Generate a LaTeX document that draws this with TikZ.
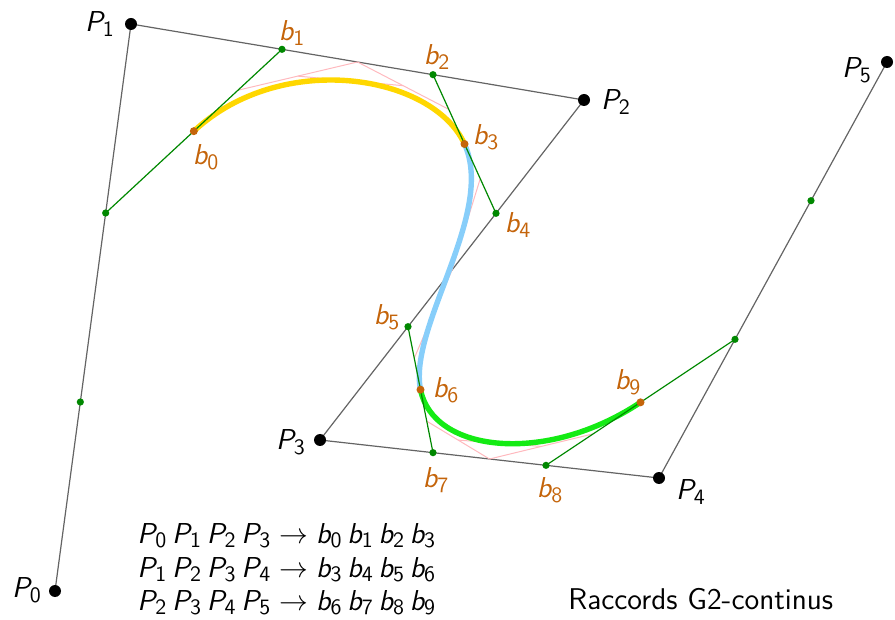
\documentclass[tikz,border=0pt]{standalone}
\usetikzlibrary{calc}
\DeclareMathAlphabet{\mathsfit}{OT1}{cmss}{m}{sl}
\newcommand\Pp[1]{\mathsfit{P}_{\mathsf{#1}}}
\newcommand\bq[1]{\mathsfit{b}_{\mathsf{#1}}}
\definecolor{gdark}{RGB}{0,136,0}
\definecolor{borange}{RGB}{196,100,10}
\definecolor{pinkc}{RGB}{255,185,190}
\definecolor{goldc}{RGB}{255,215,0}
\definecolor{bluec}{RGB}{135,206,250}
\definecolor{greenc}{RGB}{20,235,20}
\definecolor{polyc}{RGB}{100,100,100}
\begin{document}
\begin{tikzpicture}[x=0.5pt,y=-0.5pt,
  pdot/.style={circle,fill=black,inner sep=0pt,minimum size=6pt},
  gdot/.style={circle,fill=gdark,inner sep=0pt,minimum size=3.6pt},
  odot/.style={circle,fill=borange,inner sep=0pt,minimum size=4pt},
  poly/.style={draw=polyc,line width=0.6pt},
  glin/.style={draw=gdark,line width=0.6pt},
  pinkl/.style={draw=pinkc,line width=0.5pt},
  curve/.style={line width=2.7pt},
  lab/.style={font=\fontsize{15}{18}\selectfont,inner sep=0pt},
  blab/.style={lab,text=borange}]
\useasboundingbox (0,0) rectangle (895,620);
% control points
\coordinate (P0) at (55,591);
\coordinate (P1) at (131,24);
\coordinate (P2) at (584,100);
\coordinate (P3) at (320,440);
\coordinate (P4) at (659,478);
\coordinate (P5) at (887,62);
% thirds
\coordinate (a1) at ($(P0)!1/3!(P1)$);
\coordinate (a2) at ($(P0)!2/3!(P1)$);
\coordinate (b1) at ($(P1)!1/3!(P2)$);
\coordinate (b2) at ($(P1)!2/3!(P2)$);
\coordinate (b4) at ($(P2)!1/3!(P3)$);
\coordinate (b5) at ($(P2)!2/3!(P3)$);
\coordinate (b7) at ($(P3)!1/3!(P4)$);
\coordinate (b8) at ($(P3)!2/3!(P4)$);
\coordinate (c1) at ($(P4)!1/3!(P5)$);
\coordinate (c2) at ($(P4)!2/3!(P5)$);
\coordinate (b0) at ($(a2)!1/2!(b1)$);
\coordinate (b3) at ($(b2)!1/2!(b4)$);
\coordinate (b6) at ($(b5)!1/2!(b7)$);
\coordinate (b9) at ($(b8)!1/2!(c1)$);
% de Casteljau at t=1/2
\foreach \s/\A/\B/\C/\D in {x/b0/b1/b2/b3, y/b3/b4/b5/b6, z/b6/b7/b8/b9}{
  \coordinate (\s m01) at ($(\A)!1/2!(\B)$);
  \coordinate (\s m12) at ($(\B)!1/2!(\C)$);
  \coordinate (\s m23) at ($(\C)!1/2!(\D)$);
}
\foreach \s in {x,y,z}{
  \coordinate (\s l2a) at ($(\s m01)!1/2!(\s m12)$);
  \coordinate (\s l2b) at ($(\s m12)!1/2!(\s m23)$);
}
% control polygon
\draw[poly] (P0) -- (P1) -- (P2) -- (P3) -- (P4) -- (P5);
% pink construction
\foreach \s in {x,y,z}{
  \draw[pinkl] (\s m01) -- (\s m12) -- (\s m23);
  \draw[pinkl] (\s l2a) -- (\s l2b);
}
% curves
\draw[curve,goldc] (b0) .. controls (b1) and (b2) .. (b3);
\draw[curve,bluec] (b3) .. controls (b4) and (b5) .. (b6);
\draw[curve,greenc] (b6) .. controls (b7) and (b8) .. (b9);
% green tangents
\draw[glin] (a2) -- (b1);
\draw[glin] (b2) -- (b4);
\draw[glin] (b5) -- (b7);
\draw[glin] (b8) -- (c1);
% dots
\foreach \p in {P0,P1,P2,P3,P4,P5} \node[pdot] (d\p) at (\p) {};
\foreach \p in {a1,a2,b1,b2,b4,b5,b7,b8,c1,c2} \node[gdot] (d\p) at (\p) {};
\foreach \p in {b0,b3,b6,b9} \node[odot] (d\p) at (\p) {};
% labels
\node[lab] (lP0) at (27,590) {$\Pp0$};
\node[lab] (lP1) at (100,24) {$\Pp1$};
\node[lab] (lP2) at (616,102) {$\Pp2$};
\node[lab] (lP3) at (291,442) {$\Pp3$};
\node[lab] (lP4) at (691,492) {$\Pp4$};
\node[lab] (lP5) at (857,70) {$\Pp5$};
\node[blab] (lb0) at (206,157) {$\bq0$};
\node[blab] (lb1) at (292,33) {$\bq1$};
\node[blab] (lb2) at (437,57) {$\bq2$};
\node[blab] (lb3) at (486,137) {$\bq3$};
\node[blab] (lb4) at (518,225) {$\bq4$};
\node[blab] (lb5) at (387,317) {$\bq5$};
\node[blab] (lb6) at (446,390) {$\bq6$};
\node[blab] (lb7) at (436,480) {$\bq7$};
\node[blab] (lb8) at (550,490) {$\bq8$};
\node[blab] (lb9) at (628,382) {$\bq9$};
% text
\node[lab,anchor=base west] (t1) at (137,543) {$\Pp0\,\Pp1\,\Pp2\,\Pp3 \rightarrow \bq0\,\bq1\,\bq2\,\bq3$};
\node[lab,anchor=base west] (t2) at (137,577) {$\Pp1\,\Pp2\,\Pp3\,\Pp4 \rightarrow \bq3\,\bq4\,\bq5\,\bq6$};
\node[lab,anchor=base west] (t3) at (137,610) {$\Pp2\,\Pp3\,\Pp4\,\Pp5 \rightarrow \bq6\,\bq7\,\bq8\,\bq9$};
\node[lab,anchor=base west,font=\fontsize{15}{18}\selectfont\sffamily] (t4) at (568,609) {Raccords G2-continus};
\end{tikzpicture}
\end{document}
